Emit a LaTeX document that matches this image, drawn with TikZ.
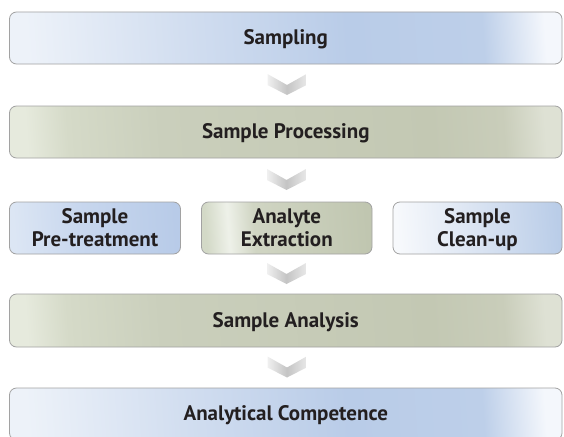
\documentclass[tikz,border=0pt]{standalone}
\usepackage{fontspec}
\setmainfont{PT Sans}
\usetikzlibrary{calc}
\definecolor{txt}{HTML}{231F20}
\definecolor{edge}{HTML}{A2A2A2}
% blue band (boxes 1 and 5)
\definecolor{ba0}{HTML}{EDF2F9}
\definecolor{ba1}{HTML}{D2DEF0}
\definecolor{ba2}{HTML}{B9CCE8}
\definecolor{ba3}{HTML}{BDCFE9}
\definecolor{ba4}{HTML}{F4F7FC}
\pgfdeclarehorizontalshading{blueband}{100bp}{color(0bp)=(ba0); color(25bp)=(ba0); color(40bp)=(ba1); color(56bp)=(ba2); color(69bp)=(ba3); color(75bp)=(ba4); color(100bp)=(ba4)}
% green band (boxes 2 and 4)
\definecolor{ga0}{HTML}{E6EADD}
\definecolor{ga1}{HTML}{D5DAC8}
\definecolor{ga2}{HTML}{CACFBC}
\definecolor{ga3}{HTML}{C3C8B3}
\definecolor{ga4}{HTML}{C9CDBA}
\definecolor{ga5}{HTML}{DEE1D4}
\pgfdeclarehorizontalshading{greenband}{100bp}{color(0bp)=(ga0); color(25bp)=(ga0); color(29bp)=(ga1); color(38bp)=(ga2); color(64bp)=(ga3); color(71bp)=(ga4); color(75bp)=(ga5); color(100bp)=(ga5)}
% row boxes
\definecolor{pa0}{HTML}{DCE6F4}
\definecolor{pa1}{HTML}{C8D7EE}
\definecolor{pa2}{HTML}{B8CBE8}
\pgfdeclarehorizontalshading{pretreat}{100bp}{color(0bp)=(pa0); color(25bp)=(pa0); color(45bp)=(pa1); color(75bp)=(pa2); color(100bp)=(pa2)}
\definecolor{ea0}{HTML}{D3D9C7}
\definecolor{ea1}{HTML}{EEF1E9}
\definecolor{ea2}{HTML}{D0D5C3}
\definecolor{ea3}{HTML}{C0C6B0}
\pgfdeclarehorizontalshading{extract}{100bp}{color(0bp)=(ea0); color(25bp)=(ea0); color(32bp)=(ea1); color(40bp)=(ea2); color(75bp)=(ea3); color(100bp)=(ea3)}
\definecolor{ca0}{HTML}{F7F9FC}
\definecolor{ca1}{HTML}{E0E8F4}
\definecolor{ca2}{HTML}{BACDE8}
\pgfdeclarehorizontalshading{cleanup}{100bp}{color(0bp)=(ca0); color(25bp)=(ca0); color(45bp)=(ca1); color(75bp)=(ca2); color(100bp)=(ca2)}
% chevron
\definecolor{cv0}{HTML}{F0F0F0}
\definecolor{cv1}{HTML}{C4C4C4}
\definecolor{cv2}{HTML}{E8E8E8}
\pgfdeclarehorizontalshading{chevshade}{100bp}{color(0bp)=(cv0); color(25bp)=(cv0); color(50bp)=(cv1); color(75bp)=(cv2); color(100bp)=(cv2)}

\begin{document}
\begin{tikzpicture}[x=1pt,y=-1pt,
  stagebox/.style={draw=edge, line width=0.8pt, rounded corners=7pt,
    text=txt, font=\bfseries\fontsize{21}{23}\selectfont, align=center,
    inner sep=0pt, minimum height=52pt, shading angle=4},
  wide/.style={stagebox, minimum width=552.5pt, text height=0.7em+6pt, text depth=0pt},
  duo/.style={stagebox, text height=29pt+0.7em, text depth=0pt},
  chev/.pic={\shade[shading=chevshade] (-19.5,-11) -- (0,0) -- (19.5,-11) -- (19.5,0) -- (0,10) -- (-19.5,0) -- cycle;}
]
\useasboundingbox (0,0) rectangle (564,436);
\clip (0,0) rectangle (564,436);
\fill[white] (0,0) rectangle (564,436);

\node[wide, shade, shading=blueband] (s1) at (285.75,38) {Sampling};
\node[wide, shade, shading=greenband] (s2) at (285.75,132) {Sample Processing};
\node[duo, shade, shading=pretreat, minimum width=171pt] (a) at (95,228) {Sample\\Pre-treatment};
\node[duo, shade, shading=extract, minimum width=170.5pt] (b) at (286.75,228) {Analyte\\Extraction};
\node[duo, shade, shading=cleanup, minimum width=169pt] (c) at (477.5,228) {Sample\\Clean-up};
\node[wide, shade, shading=greenband, minimum height=53pt] (s4) at (285.75,320.5) {Sample Analysis};
\node[wide, shade, shading=blueband] (s5) at (285.75,414) {Analytical Competence};

\pic at ($(s1.south)!0.5!(s2.north)+(1.25,0)$) {chev};
\pic at ($(s2.south)!0.5!(b.north)+(0.25,0)$) {chev};
\pic at ($(b.south)!0.5!(s4.north)+(0.25,0)$) {chev};
\pic at ($(s4.south)!0.5!(s5.north)+(1.25,0)$) {chev};
\end{tikzpicture}
\end{document}
